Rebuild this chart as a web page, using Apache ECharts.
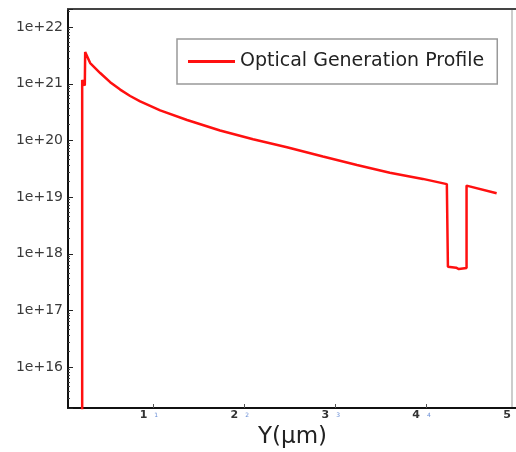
<!DOCTYPE html>
<html>
<head>
<meta charset="utf-8">
<script src="https://cdn.jsdelivr.net/npm/echarts@6/dist/echarts.min.js"></script>
<style>
html,body{margin:0;padding:0;background:#fff;}
#c{width:516px;height:452px;}
</style>
</head>
<body>
<div id="c"></div>
<script>
// Position along Y (µm)
const xVals = [0.216, 0.216, 0.245, 0.249, 0.304, 0.414, 0.524, 0.634, 0.744, 0.854, 1.074, 1.370, 1.733, 2.096, 2.469, 2.865, 3.239, 3.601, 3.964, 4.228, 4.240, 4.330, 4.360, 4.445, 4.445, 4.776];
// Optical generation (log scale)
const yVals = [1e15, 1.17e21, 9.3e20, 3.63e21, 2.32e21, 1.55e21, 1.07e21, 7.9e20, 6.1e20, 4.9e20, 3.4e20, 2.3e20, 1.5e20, 1.05e20, 7.6e19, 5.2e19, 3.7e19, 2.7e19, 2.1e19, 1.7e19, 5.9e17, 5.7e17, 5.4e17, 5.6e17, 1.6e19, 1.17e19];
const xTicks = [1, 2, 3, 4, 5];
const seriesName = 'Optical Generation Profile';
const xName = 'Y(\u03bcm)';

const data = xVals.map((x, i) => [x, yVals[i]]);

const chart = echarts.init(document.getElementById('c'), null, {renderer: 'canvas'});
chart.setOption({
  animation: false,
  backgroundColor: '#fff',
  grid: {left: 68, top: 9, right: -1, bottom: 44, containLabel: false, outerBoundsMode: 'none'},
  legend: {
    left: 177, top: 39,
    padding: [13, 13, 13, 11],
    borderColor: '#999', borderWidth: 1.5,
    icon: 'rect', itemWidth: 47, itemHeight: 3,
    textStyle: {fontFamily: 'DejaVu Sans', fontSize: 19, color: '#222'},
    data: [seriesName]
  },
  xAxis: [{
    type: 'value', min: 0.06, max: 5,
    name: xName, nameLocation: 'middle', nameGap: 18,
    nameTextStyle: {fontFamily: 'DejaVu Sans', fontSize: 23, color: '#222'},
    axisLine: {show: true, lineStyle: {color: '#111', width: 2}},
    axisTick: {show: true, inside: true, length: 4, customValues: xTicks, lineStyle: {color: '#555'}},
    minorTick: {show: false},
    splitLine: {show: false},
    axisLabel: {
      customValues: xTicks, margin: 2,
      formatter: v => '{a|' + v + '}{b|' + v + '}',
      rich: {
        a: {fontFamily: 'DejaVu Sans', fontSize: 11, fontWeight: 'bold', color: '#333'},
        b: {fontFamily: 'DejaVu Sans', fontSize: 6, color: '#6b8fd6', padding: [0, 9, 0, 7]}
      }
    }
  }, {
    type: 'value', position: 'top', min: 0.06, max: 5,
    axisLine: {show: true, lineStyle: {color: '#444', width: 2}},
    axisTick: {show: false}, axisLabel: {show: false}, splitLine: {show: false}
  }],
  yAxis: {
    type: 'log', logBase: 10,
    min: Math.pow(10, 15.28), max: Math.pow(10, 22.32),
    axisLine: {show: true, lineStyle: {color: '#111', width: 2}},
    axisTick: {show: true, inside: true, length: 5, lineStyle: {color: '#222'}},
    minorTick: {show: true, splitNumber: 10, length: 2, lineStyle: {color: '#444'}},
    splitLine: {show: false},
    axisLabel: {
      showMinLabel: false, showMaxLabel: false, margin: 5,
      fontFamily: 'DejaVu Sans', fontSize: 14, color: '#3a3a3a',
      formatter: v => '1e+' + Math.round(Math.log10(v))
    }
  },
  graphic: [{
    type: 'line', shape: {x1: 512, y1: 9, x2: 512, y2: 408},
    style: {stroke: '#bbb', lineWidth: 1.5}, silent: true
  }],
  series: [{
    name: seriesName, type: 'line', data: data,
    showSymbol: false, symbol: 'none',
    lineStyle: {color: '#ff1010', width: 2.5},
    itemStyle: {color: '#ff1010'},
    clip: true
  }]
});
</script>
</body>
</html>
